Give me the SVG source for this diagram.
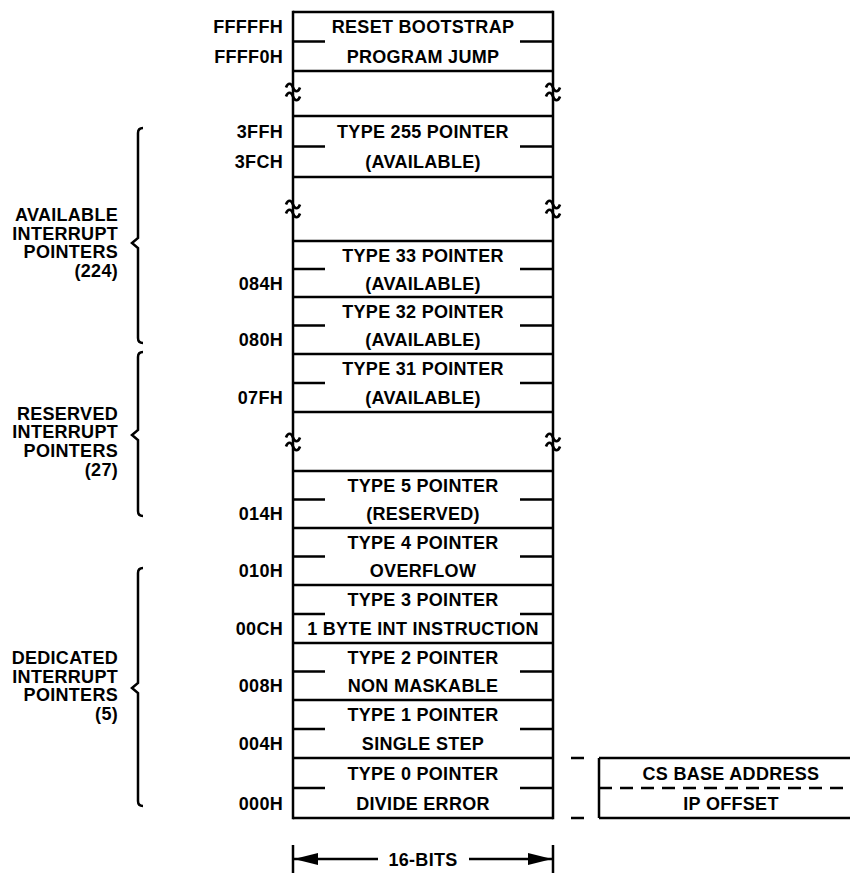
<svg xmlns="http://www.w3.org/2000/svg" width="850" height="875" viewBox="0 0 850 875">
<style>
text{font-family:"Liberation Sans",Arial,sans-serif;font-weight:bold;font-size:18px;letter-spacing:0.3px;fill:#000}
.c{text-anchor:middle}
.r{text-anchor:end}
.ln{stroke:#000;stroke-width:2.5;fill:none}
.sq{stroke:#000;stroke-width:2.6;fill:none}
.dash{stroke:#000;stroke-width:2.5;fill:none;stroke-dasharray:13 8}
</style>
<defs>
<path id="tilde" d="M-7,-3.5 c1.8,-5 5.2,-5 7,0 s5.2,5 7,0 M-7,5.5 c1.8,-5 5.2,-5 7,0 s5.2,5 7,0"/>
<marker id="ah" markerWidth="24" markerHeight="12" refX="24" refY="6" orient="auto" markerUnits="userSpaceOnUse"><path d="M0,0 L24,6 L0,12 Z" fill="#000"/></marker>
</defs>
<g id="column">
<line class="ln" x1="293" y1="10.75" x2="293" y2="819.25"/>
<line class="ln" x1="553" y1="10.75" x2="553" y2="819.25"/>
</g>
<g id="breaks">
<use href="#tilde" class="sq" x="293" y="91"/>
<use href="#tilde" class="sq" x="553" y="91"/>
<use href="#tilde" class="sq" x="293" y="208"/>
<use href="#tilde" class="sq" x="553" y="208"/>
<use href="#tilde" class="sq" x="293" y="441"/>
<use href="#tilde" class="sq" x="553" y="441"/>
</g>
<g id="box-reset">
<path class="ln" d="M293,12H553M293,71H553M293,41.5H325M520,41.5H553"/>
<text class="c" x="423" y="33.25">RESET BOOTSTRAP</text>
<text class="c" x="423" y="62.75">PROGRAM JUMP</text>
<text class="r" x="283" y="33.25">FFFFFH</text>
<text class="r" x="283" y="62.75">FFFF0H</text>
</g>
<g id="box-type255">
<path class="ln" d="M293,116H553M293,177H553M293,146.5H325M520,146.5H553"/>
<text class="c" x="423" y="137.75">TYPE 255 POINTER</text>
<text class="c" x="423" y="168.25">(AVAILABLE)</text>
<text class="r" x="283" y="137.75">3FFH</text>
<text class="r" x="283" y="168.25">3FCH</text>
</g>
<g id="box-type33">
<path class="ln" d="M293,241H553M293,269H325M520,269H553"/>
<text class="c" x="423" y="261.5">TYPE 33 POINTER</text>
<text class="c" x="423" y="289.5">(AVAILABLE)</text>
<text class="r" x="283" y="289.5">084H</text>
</g>
<g id="box-type32">
<path class="ln" d="M293,297H553M293,325.5H325M520,325.5H553"/>
<text class="c" x="423" y="317.75">TYPE 32 POINTER</text>
<text class="c" x="423" y="346.25">(AVAILABLE)</text>
<text class="r" x="283" y="346.25">080H</text>
</g>
<g id="box-type31">
<path class="ln" d="M293,354H553M293,412H553M293,383H325M520,383H553"/>
<text class="c" x="423" y="375">TYPE 31 POINTER</text>
<text class="c" x="423" y="404">(AVAILABLE)</text>
<text class="r" x="283" y="404">07FH</text>
</g>
<g id="box-type5">
<path class="ln" d="M293,471H553M293,499.5H325M520,499.5H553"/>
<text class="c" x="423" y="491.75">TYPE 5 POINTER</text>
<text class="c" x="423" y="520.25">(RESERVED)</text>
<text class="r" x="283" y="520.25">014H</text>
</g>
<g id="box-type4">
<path class="ln" d="M293,528H553M293,556.5H325M520,556.5H553"/>
<text class="c" x="423" y="548.75">TYPE 4 POINTER</text>
<text class="c" x="423" y="577.25">OVERFLOW</text>
<text class="r" x="283" y="577.25">010H</text>
</g>
<g id="box-type3">
<path class="ln" d="M293,585H553M293,614H325M520,614H553"/>
<text class="c" x="423" y="606">TYPE 3 POINTER</text>
<text class="c" x="423" y="635">1 BYTE INT INSTRUCTION</text>
<text class="r" x="283" y="635">00CH</text>
</g>
<g id="box-type2">
<path class="ln" d="M293,643H553M293,671.5H325M520,671.5H553"/>
<text class="c" x="423" y="663.75">TYPE 2 POINTER</text>
<text class="c" x="423" y="692.25">NON MASKABLE</text>
<text class="r" x="283" y="692.25">008H</text>
</g>
<g id="box-type1">
<path class="ln" d="M293,700H553M293,729H325M520,729H553"/>
<text class="c" x="423" y="721">TYPE 1 POINTER</text>
<text class="c" x="423" y="750">SINGLE STEP</text>
<text class="r" x="283" y="750">004H</text>
</g>
<g id="box-type0">
<path class="ln" d="M293,758H553M293,818H553M293,788H325M520,788H553"/>
<text class="c" x="423" y="779.5">TYPE 0 POINTER</text>
<text class="c" x="423" y="809.5">DIVIDE ERROR</text>
<text class="r" x="283" y="809.5">000H</text>
</g>
<g id="group-available">
<path class="ln" d="M143,128q-5,0 -5,5V238l-6,5l6,5V338q0,5 5,5"/>
<text class="r" x="118" y="221">AVAILABLE</text>
<text class="r" x="118" y="239.7">INTERRUPT</text>
<text class="r" x="118" y="258.4">POINTERS</text>
<text class="r" x="118" y="277.1">(224)</text>
</g>
<g id="group-reserved">
<path class="ln" d="M143,352q-5,0 -5,5V430l-6,5l6,5V511q0,5 5,5"/>
<text class="r" x="118" y="419.5">RESERVED</text>
<text class="r" x="118" y="438.2">INTERRUPT</text>
<text class="r" x="118" y="456.9">POINTERS</text>
<text class="r" x="118" y="475.6">(27)</text>
</g>
<g id="group-dedicated">
<path class="ln" d="M143,568q-5,0 -5,5V683l-6,5l6,5V801q0,5 5,5"/>
<text class="r" x="118" y="664">DEDICATED</text>
<text class="r" x="118" y="682.7">INTERRUPT</text>
<text class="r" x="118" y="701.4">POINTERS</text>
<text class="r" x="118" y="720.1">(5)</text>
</g>
<g id="cs-ip">
<path class="ln" d="M599,758V818M599,758H850M599,818H850"/>
<line class="dash" x1="599" y1="788" x2="850" y2="788"/>
<text class="c" x="731" y="780">CS BASE ADDRESS</text>
<text class="c" x="731" y="809.5">IP OFFSET</text>
</g>
<g id="connectors">
<path class="ln" d="M571,758H584M571,818H584"/>
<path class="ln" d="M293,845V873M553,845V873"/>
<line class="ln" x1="378" y1="859" x2="294" y2="859" marker-end="url(#ah)"/>
<line class="ln" x1="469" y1="859" x2="552" y2="859" marker-end="url(#ah)"/>
</g>
<g id="width-label">
<text class="c" x="423" y="865.5">16-BITS</text>
</g>
</svg>
